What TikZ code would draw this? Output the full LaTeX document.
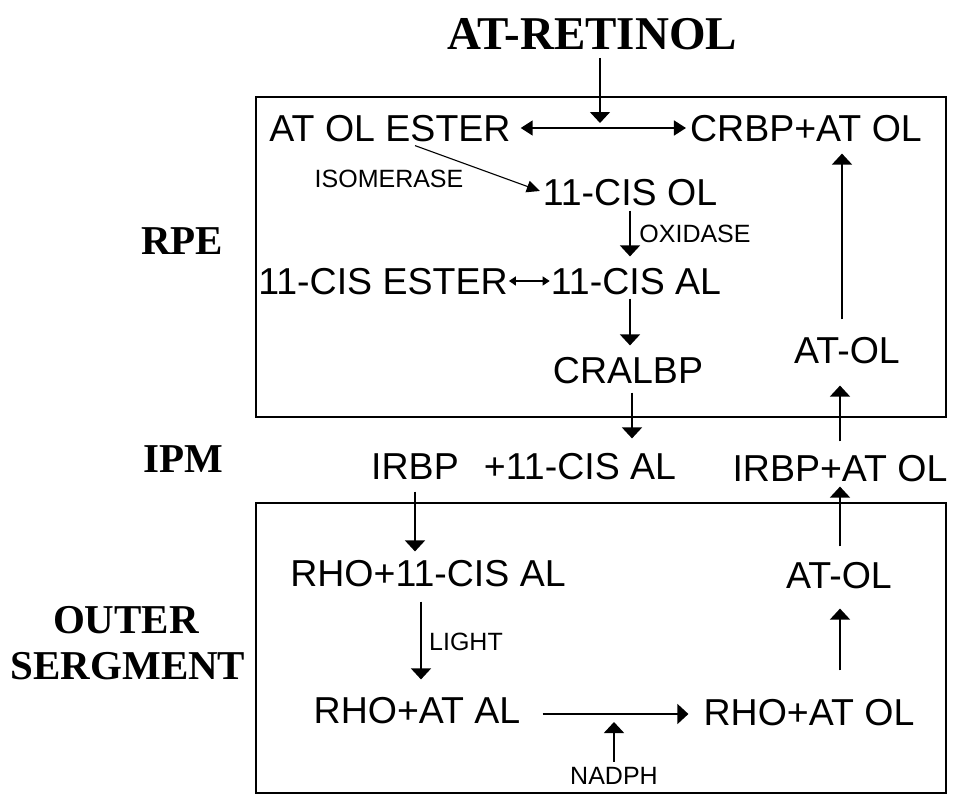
\documentclass[tikz,border=0pt]{standalone}
\usepackage{fontspec}
\setmainfont{Liberation Sans}
\newfontfamily\labelserif{Liberation Serif}
\usetikzlibrary{arrows.meta}

\begin{document}
\begin{tikzpicture}[x=1pt,y=-1pt,
  chem/.style={inner sep=0pt, font=\fontsize{37.5}{40}\selectfont, text height=26.8pt, text depth=0pt},
  enz/.style={inner sep=0pt, font=\fontsize{25}{27}\selectfont, text height=17.9pt, text depth=0pt},
  region/.style={inner sep=0pt, font=\labelserif\bfseries\fontsize{41}{44}\selectfont, text height=27.1pt, text depth=0pt},
  heading/.style={inner sep=0pt, font=\labelserif\bfseries\fontsize{47}{50}\selectfont, text height=31.1pt, text depth=0pt},
  arr/.style={line width=1.6pt, -{Triangle[width=20pt,length=11pt]}},
  slant/.style={line width=1.1pt, -{Triangle[width=12pt,length=13pt]}},
  dbl/.style={line width=1.6pt, {Triangle[width=15pt,length=12pt]}-{Triangle[width=15pt,length=12pt]}},
  dblsmall/.style={line width=1.4pt, {Triangle[width=9pt,length=7pt]}-{Triangle[width=9pt,length=7pt]}},
  panel/.style={line width=2pt}
]
\fill[white] (0,0) rectangle (954,809);
\useasboundingbox (0,0) rectangle (954,809);

% compartment frames
\draw[panel] (256,97) rectangle (946,417);
\draw[panel] (256,503) rectangle (946,793);

% compartment names
\node[heading] (ret) at (592,34) {AT-RETINOL};
\node[region] (rpe) at (182,241) {RPE};
\node[region] (ipm) at (183,459) {IPM};
\node[region] (outer) at (126,620) {OUTER};
\node[region] (serg) at (128,666) {SERGMENT};

% RPE
\node[chem] (ester) at (390,128) {AT OL ESTER};
\node[chem] (crbp) at (806,128) {CRBP+AT OL};
\coordinate (junc) at (600,128);
\node[chem] (clol) at (630,192) {11-CIS OL};
\node[enz] (isom) at (389,179) {ISOMERASE};
\node[enz] (oxid) at (695,234) {OXIDASE};
\node[chem] (cester) at (383,281) {11-CIS ESTER};
\node[chem] (clal) at (636,281) {11-CIS AL};
\node[chem] (cralbp) at (628,370) {CRALBP};
\node[chem] (atol1) at (847,350) {AT-OL};

% IPM
\node[chem] (irbp) at (415,466) {IRBP};
\node[chem] (plus) at (580,466) {+11-CIS AL};
\node[chem] (irbpat) at (840,468) {IRBP+AT OL};

% outer segment
\node[chem] (rho11) at (428,573) {RHO+11-CIS AL};
\node[chem] (atol2) at (839,575) {AT-OL};
\node[enz] (light) at (466,642) {LIGHT};
\node[chem] (rhoal) at (417,710) {RHO+AT AL};
\node[chem] (rhool) at (809,712) {RHO+AT OL};
\node[enz] (nadph) at (614,776) {NADPH};
\coordinate (hl) at ([yshift=-4pt]rhoal.east);

% reactions
\draw[arr, shorten <=8pt, shorten >=5pt] (ret.south -| junc) -- (junc);
\draw[dbl, shorten <=10pt, shorten >=4pt] (ester.east) -- (crbp.west);
\draw[slant, shorten >=3pt] ([xshift=25pt,yshift=-4pt]ester.south) -- (clol.west);
\draw[arr, shorten <=5pt, shorten >=11pt] (clol.south) -- (clol.south |- clal.north);
\draw[dblsmall, shorten <=1pt, shorten >=1pt] (cester.east) -- (clal.west);
\draw[arr, shorten <=4pt, shorten >=11pt] (clol.south |- clal.south) -- (clol.south |- cralbp.north);
\draw[arr, shorten <=9pt, shorten >=14pt] ([xshift=2pt]clol.south |- cralbp.south) -- ([xshift=2pt]clol.south |- plus.north);
\draw[arr, shorten <=12pt, shorten >=8pt] (irbp.south) -- (irbp.south |- rho11.north);
\draw[arr, shorten <=15pt, shorten >=17pt] ([xshift=6pt]irbp.south |- rho11.south) -- ([xshift=6pt]irbp.south |- rhoal.north);
\draw[arr, shorten <=22pt, shorten >=15pt] (hl) -- (hl -| rhool.west);
\draw[arr, shorten <=5pt, shorten >=8pt] (nadph.north) -- (nadph.north |- hl);
\draw[arr, shorten <=28pt, shorten >=20pt] (irbpat.center |- rhool.north) -- (irbpat.center |- atol2.south);
\draw[arr, shorten <=15pt, shorten >=5pt] (irbpat.center |- atol2.north) -- (irbpat.south);
\draw[arr, shorten <=13pt, shorten >=22pt] (irbpat.north) -- (irbpat.north |- atol1.south);
\draw[arr, shorten <=17pt, shorten >=12pt] ([xshift=2pt]irbpat.north |- atol1.north) -- ([xshift=2pt]irbpat.north |- crbp.south);
\end{tikzpicture}
\end{document}
